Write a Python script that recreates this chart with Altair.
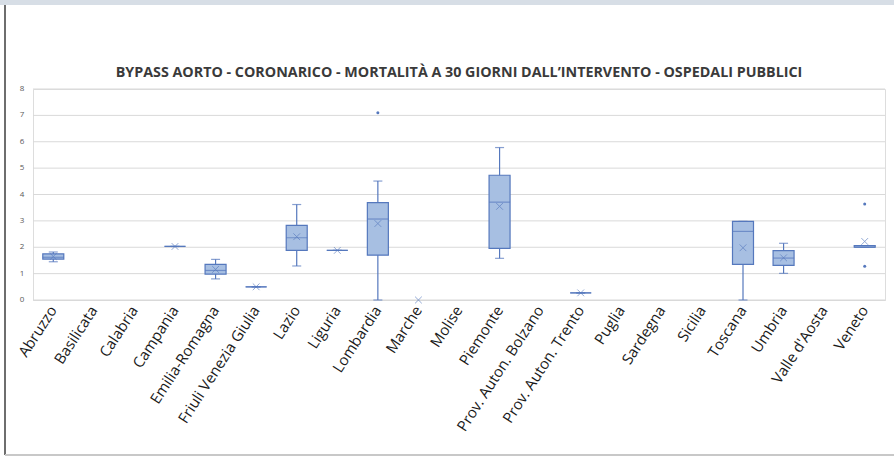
import altair as alt
import pandas as pd

# Regions on the x axis (all shown, even when no data)
regions = [
    "Abruzzo", "Basilicata", "Calabria", "Campania", "Emilia-Romagna",
    "Friuli Venezia Giulia", "Lazio", "Liguria", "Lombardia", "Marche",
    "Molise", "Piemonte", "Prov. Auton. Bolzano", "Prov. Auton. Trento",
    "Puglia", "Sardegna", "Sicilia", "Toscana", "Umbria", "Valle d'Aosta",
    "Veneto",
]

# Box statistics per region (None = not available)
lo     = [1.45, None, None, 2.03, 0.80, 0.50, 1.29, 1.88, 0.00, None, None, 1.58, None, 0.27, None, None, None, 0.00, 1.01, None, 2.00]
q1     = [1.55, None, None, 2.03, 0.98, 0.50, 1.88, 1.88, 1.70, None, None, 1.96, None, 0.27, None, None, None, 1.35, 1.31, None, 2.00]
median = [1.62, None, None, 2.03, 1.12, 0.50, 2.36, 1.88, 3.07, None, None, 3.71, None, 0.27, None, None, None, 2.60, 1.59, None, 2.00]
q3     = [1.75, None, None, 2.03, 1.35, 0.50, 2.83, 1.88, 3.69, None, None, 4.73, None, 0.27, None, None, None, 2.98, 1.87, None, 2.06]
hi     = [1.82, None, None, 2.03, 1.54, 0.50, 3.62, 1.88, 4.51, None, None, 5.78, None, 0.27, None, None, None, 2.98, 2.15, None, 2.06]
mean   = [1.65, None, None, 2.03, 1.16, 0.50, 2.40, 1.88, 2.90, 0.00, None, 3.55, None, 0.27, None, None, None, 1.98, 1.60, None, 2.22]

# Outlying hospitals
outlier_region = ["Lombardia", "Veneto", "Veneto"]
outlier_value  = [7.10, 3.64, 1.28]

# Y-axis tick values
y_ticks = [0, 1, 2, 3, 4, 5, 6, 7, 8]

TITLE = "BYPASS AORTO - CORONARICO - MORTALITÀ A 30 GIORNI DALL’INTERVENTO - OSPEDALI PUBBLICI"

rows = [
    dict(region=r, lo=a, q1=b, median=c, q3=d, hi=e, mean=f)
    for r, a, b, c, d, e, f in zip(regions, lo, q1, median, q3, hi, mean)
    if f is not None
]
stats = pd.DataFrame(rows)
outliers = pd.DataFrame({"region": outlier_region, "value": outlier_value})
ticks_df = pd.DataFrame({"v": y_ticks})

STROKE = "#5578bd"
FILL = "#a7bfe2"
PLOT_W, PLOT_H = 852, 211

x_scale = alt.Scale(domain=regions, paddingInner=0, paddingOuter=0)
x_axis = alt.Axis(
    title=None, labelAngle=-57, labelAlign="right", labelBaseline="middle",
    labelFont="Open Sans", labelFontSize=15, labelColor="#1a1a1a",
    labelPadding=7, ticks=False, domainColor="#d9d9d9", grid=False,
    labelOverlap=False, labelLimit=300,
)
y_scale = alt.Scale(domain=[0, 8], nice=False)


def xpos(field="region"):
    return alt.X(f"{field}:N", scale=x_scale, sort=regions, axis=x_axis)


def ypos(field):
    return alt.Y(f"{field}:Q", scale=y_scale, axis=None)


# Horizontal gridlines and y labels at every integer
grid = alt.Chart(ticks_df).mark_rule(color="#d9d9d9", strokeWidth=1).encode(
    y=ypos("v"), x=alt.value(0), x2=alt.value(PLOT_W)
)
y_labels = alt.Chart(ticks_df).mark_text(
    font="Open Sans", fontSize=8, color="#595959", align="center",
    baseline="middle",
).encode(y=ypos("v"), x=alt.value(-11), text="v:Q")

base = alt.Chart(stats).encode(x=xpos())
valid = base.transform_filter("isValid(datum.q1)")

whiskers = valid.mark_rule(color=STROKE, strokeWidth=1.2).encode(
    y=ypos("lo"), y2="hi:Q"
)
caps_lo = valid.mark_tick(color=STROKE, size=9, thickness=1.2).encode(y=ypos("lo"))
caps_hi = valid.mark_tick(color=STROKE, size=9, thickness=1.2).encode(y=ypos("hi"))
boxes = valid.mark_bar(fill=FILL, stroke=STROKE, strokeWidth=1.2, size=21).encode(
    y=ypos("q1"), y2="q3:Q"
)
medians = valid.mark_tick(color=STROKE, size=21, thickness=1.2).encode(y=ypos("median"))
means = base.mark_point(
    shape="M-1,-1L1,1M-1,1L1,-1", filled=False, color=STROKE,
    size=45, strokeWidth=0.9,
).encode(y=ypos("mean"))

outlier_pts = alt.Chart(outliers).mark_point(
    shape="circle", filled=True, color=STROKE, size=9, opacity=1
).encode(x=xpos(), y=ypos("value"))

# Title and outer frame of the chart sheet
one = alt.Data(values=[{"k": 0}])
title = alt.Chart(one).mark_text(
    text=TITLE, font="Open Sans", fontSize=14.3, fontWeight="bold",
    color="#3a3a3a", align="center", baseline="middle",
).encode(x=alt.value(PLOT_W / 2), y=alt.value(-16))
top_band = alt.Chart(one).mark_rect(color="#d7dee6").encode(
    x=alt.value(-33), x2=alt.value(861), y=alt.value(-89), y2=alt.value(-84)
)
left_edge = alt.Chart(one).mark_rule(color="#6e6e6e", strokeWidth=2).encode(
    x=alt.value(-28), y=alt.value(-84), y2=alt.value(366)
)
bottom_edge = alt.Chart(one).mark_rule(color="#c8c8c8", strokeWidth=2).encode(
    x=alt.value(-28), x2=alt.value(861), y=alt.value(366)
)

chart = alt.layer(
    grid, y_labels,
    whiskers, caps_lo, caps_hi, boxes, medians, means, outlier_pts,
    title, top_band, left_edge, bottom_edge,
).properties(
    width=PLOT_W,
    height=PLOT_H,
    autosize="none",
    padding={"left": 33, "top": 89, "right": 9, "bottom": 156},
).configure_view(stroke=None).configure(background="white")

chart.save("out.html", embed_options={"renderer": "svg", "actions": False})
